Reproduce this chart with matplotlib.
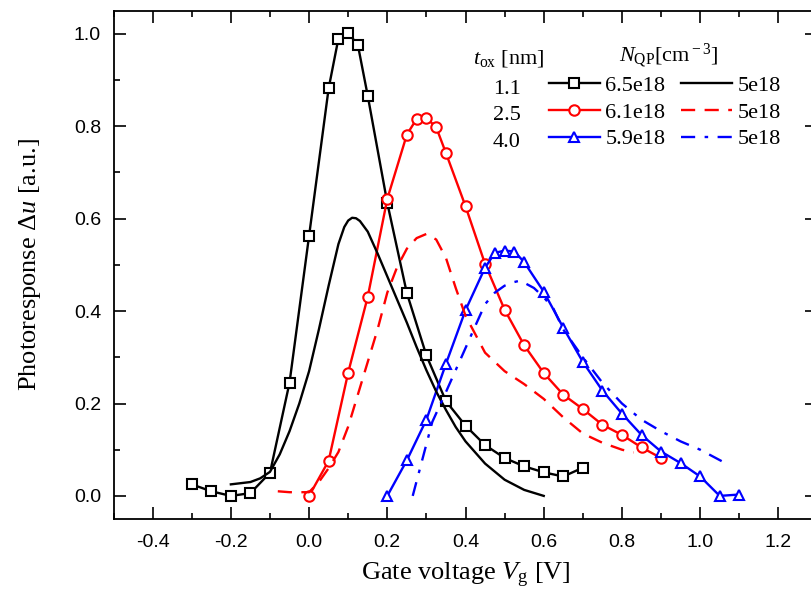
import numpy as np
import matplotlib
matplotlib.use("Agg")
import matplotlib.pyplot as plt
from matplotlib.ticker import MultipleLocator, FormatStrFormatter

# 1.1 nm oxide, N_QP = 6.5e18 (squares)
vg_11 = [-0.3, -0.25, -0.2, -0.15, -0.1, -0.05, 0.0, 0.05, 0.075, 0.1, 0.125, 0.15,
         0.2, 0.25, 0.3, 0.35, 0.4, 0.45, 0.5, 0.55, 0.6, 0.65, 0.7]
du_11 = [0.025, 0.01, 0.0, 0.006, 0.05, 0.245, 0.563, 0.882, 0.99, 1.003, 0.975, 0.866,
         0.634, 0.439, 0.304, 0.205, 0.152, 0.110, 0.082, 0.064, 0.051, 0.042, 0.061]

# 2.5 nm oxide, N_QP = 6.1e18 (circles)
vg_25 = [0.0, 0.05, 0.1, 0.15, 0.2, 0.25, 0.275, 0.3, 0.325, 0.35, 0.4, 0.45, 0.5,
         0.55, 0.6, 0.65, 0.7, 0.75, 0.8, 0.85, 0.9]
du_25 = [0.0, 0.076, 0.267, 0.431, 0.643, 0.782, 0.816, 0.818, 0.798, 0.742, 0.627,
         0.502, 0.403, 0.326, 0.266, 0.219, 0.188, 0.154, 0.132, 0.105, 0.082]

# 4.0 nm oxide, N_QP = 5.9e18 (triangles)
vg_40 = [0.2, 0.25, 0.3, 0.35, 0.4, 0.45, 0.475, 0.5, 0.525, 0.55, 0.6, 0.65, 0.7,
         0.75, 0.8, 0.85, 0.9, 0.95, 1.0, 1.05, 1.1]
du_40 = [0.0, 0.077, 0.165, 0.286, 0.402, 0.494, 0.526, 0.531, 0.529, 0.506, 0.442,
         0.364, 0.290, 0.228, 0.178, 0.132, 0.096, 0.071, 0.042, 0.0, 0.003]

# simulations, N_QP = 5e18
sim_vg_11 = [-0.2, -0.15, -0.125, -0.1, -0.075, -0.05, -0.025, 0.0, 0.025, 0.05, 0.075,
             0.09, 0.1, 0.11, 0.12, 0.13, 0.15, 0.175, 0.2, 0.225, 0.25, 0.275, 0.3,
             0.325, 0.35, 0.375, 0.4, 0.45, 0.5, 0.55, 0.6]
sim_du_11 = [0.025, 0.03, 0.038, 0.052, 0.09, 0.14, 0.2, 0.27, 0.36, 0.455, 0.545,
             0.582, 0.596, 0.602, 0.601, 0.595, 0.572, 0.525, 0.475, 0.425, 0.375,
             0.322, 0.272, 0.226, 0.186, 0.149, 0.118, 0.07, 0.035, 0.013, 0.0]

sim_vg_25 = [-0.08, -0.05, 0.0, 0.025, 0.05, 0.075, 0.1, 0.125, 0.15, 0.175, 0.2,
             0.225, 0.25, 0.275, 0.3, 0.325, 0.35, 0.375, 0.4, 0.45, 0.5, 0.55,
             0.6, 0.65, 0.7, 0.75, 0.8, 0.83]
sim_du_25 = [0.01, 0.008, 0.008, 0.03, 0.06, 0.095, 0.15, 0.22, 0.29, 0.36, 0.44,
             0.495, 0.535, 0.558, 0.567, 0.555, 0.515, 0.45, 0.39, 0.31, 0.27, 0.242,
             0.21, 0.17, 0.135, 0.115, 0.1, 0.094]

sim_vg_40 = [0.265, 0.29, 0.315, 0.35, 0.4, 0.425, 0.45, 0.475, 0.5, 0.525, 0.54,
             0.575, 0.6, 0.625, 0.65, 0.7, 0.75, 0.8, 0.85, 0.9, 0.95, 1.0, 1.06]
sim_du_40 = [0.0, 0.08, 0.16, 0.225, 0.32, 0.368, 0.415, 0.44, 0.455, 0.463, 0.466,
             0.45, 0.43, 0.405, 0.36, 0.3, 0.245, 0.2, 0.165, 0.14, 0.118, 0.1, 0.073]

tox_labels = ["1.1", "2.5", "4.0"]
nqp_meas = ["6.5e18", "6.1e18", "5.9e18"]
nqp_sim = ["5e18", "5e18", "5e18"]

plt.rcParams["mathtext.fontset"] = "custom"
plt.rcParams["mathtext.rm"] = "Liberation Serif"
plt.rcParams["mathtext.it"] = "Liberation Serif:italic"
serif = "Liberation Serif"
sans = "Liberation Sans"

fig = plt.figure(figsize=(8.11, 6.0), dpi=100)
ax = fig.add_axes([0.140, 0.135, 0.868, 0.847])

mk = dict(markersize=7.5, markeredgewidth=1.5, markerfacecolor="white", linewidth=1.7)
l1, = ax.plot(vg_11, du_11, "-s", color="black", **mk)
l2, = ax.plot(vg_25, du_25, "-o", color="red", **mk)
l3, = ax.plot(vg_40, du_40, "-^", color="blue", **mk)
s1, = ax.plot(sim_vg_11, sim_du_11, "-", color="black", linewidth=1.7)
s2, = ax.plot(sim_vg_25, sim_du_25, "--", color="red", linewidth=1.7, dashes=(6, 4))
s3, = ax.plot(sim_vg_40, sim_du_40, "-.", color="blue", linewidth=1.7, dashes=(6, 4, 1.5, 4))

ax.set_xlim(-0.5, 1.3)
ax.set_ylim(-0.05, 1.05)
ax.xaxis.set_major_locator(MultipleLocator(0.2))
ax.xaxis.set_minor_locator(MultipleLocator(0.1))
ax.yaxis.set_major_locator(MultipleLocator(0.2))
ax.yaxis.set_minor_locator(MultipleLocator(0.1))
ax.xaxis.set_major_formatter(FormatStrFormatter("%.1f"))
ax.yaxis.set_major_formatter(FormatStrFormatter("%.1f"))
ax.tick_params(which="both", direction="in", top=True, right=True, width=1.2)
ax.tick_params(which="major", length=8.5)
ax.tick_params(which="minor", length=4.5)
ax.tick_params(axis="x", pad=11)
ax.tick_params(axis="y", pad=9)
for lab in ax.get_xticklabels() + ax.get_yticklabels():
    lab.set_fontfamily(sans)
    lab.set_fontsize(14)
for sp in ax.spines.values():
    sp.set_linewidth(1.3)

ax.set_xlabel(r"Gate voltage $V_{\rm g}$ [V]", fontfamily=serif, fontsize=19, labelpad=7)
ax.set_ylabel(r"Photoresponse $\Delta u$ [a.u.]", fontfamily=serif, fontsize=19, labelpad=22)

leg = ax.legend([l1, l2, l3, s1, s2, s3], nqp_meas + nqp_sim, ncol=2, frameon=False,
                loc="upper left", bbox_to_anchor=(0.618, 0.873), borderpad=0,
                borderaxespad=0, handlelength=2.3, handletextpad=0.25,
                columnspacing=0.7, labelspacing=0.28,
                prop={"family": serif, "size": 16})

row_y = [0.846, 0.793, 0.740]
for lab, yy in zip(tox_labels, row_y):
    ax.text(0.559, yy, lab, transform=ax.transAxes, ha="center", va="center",
            fontfamily=serif, fontsize=16)
ax.text(0.561, 0.907, r"$t_{\rm ox}$ [nm]", transform=ax.transAxes, ha="center",
        va="center", fontfamily=serif, fontsize=16)
ax.text(0.789, 0.910, r"$N_{\rm QP}$[cm$^{\rm -3}$]", transform=ax.transAxes,
        ha="center", va="center", fontfamily=serif, fontsize=16)

fig.savefig("out.png", dpi=100)
